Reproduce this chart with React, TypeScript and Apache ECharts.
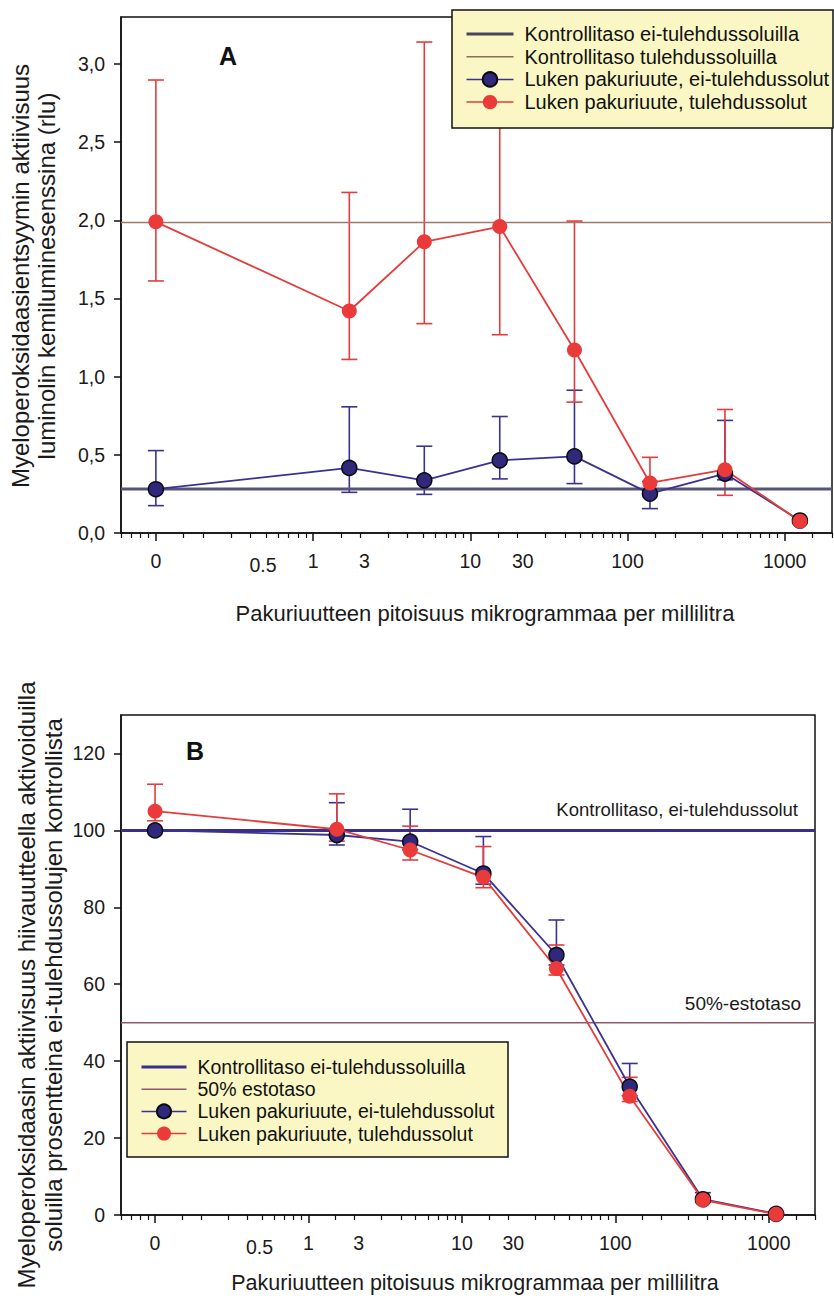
import React, { useEffect, useRef } from 'react';
import * as echarts from 'echarts';

const FONT = '"Liberation Sans", Arial, Helvetica, sans-serif';

// ---------- shared x axis (log concentration) ----------
const X_MIN = 0.06;
const X_MAX = 2000;
const majorTickValues = [0.1, 1, 10, 100, 1000];
const majorTickLabels = ['0', '1', '10', '100', '1000'];
const extraLabelValues = [0.48, 2.12, 21.6];
const extraLabels = ['0.5', '3', '30'];
const minorTickValues = [
  0.06, 0.07, 0.08, 0.09, 0.15, 0.2, 0.3, 0.4, 0.5, 0.6, 0.7, 0.8, 0.9,
  1.5, 2, 3, 4, 5, 6, 7, 8, 9, 15, 20, 30, 40, 50, 60, 70, 80, 90,
  150, 200, 300, 400, 500, 600, 700, 800, 900, 1500, 2000,
];

// ---------- chart A ----------
const yTicksA = [0, 0.5, 1, 1.5, 2, 2.5, 3];
const concA = [0.1, 1.7, 5.1, 15.4, 46, 139, 417, 1250];
const nonInfMeanA = [0.28, 0.416, 0.337, 0.465, 0.49, 0.252, 0.38, 0.08];
const nonInfLowA = [0.175, 0.26, 0.247, 0.346, 0.316, 0.156, 0.34, 0.07];
const nonInfHighA = [0.527, 0.807, 0.555, 0.745, 0.913, 0.33, 0.72, 0.09];
const infMeanA = [1.99, 1.42, 1.862, 1.96, 1.17, 0.32, 0.405, 0.075];
const infLowA = [1.612, 1.11, 1.339, 1.268, 0.837, 0.25, 0.241, 0.065];
const infHighA = [2.897, 2.178, 3.14, 2.75, 1.995, 0.484, 0.79, 0.09];
const controlNonInfA = 0.282;
const controlInfA = 1.986;

// ---------- chart B ----------
const yTicksB = [0, 20, 40, 60, 80, 100, 120];
const concB = [0.1, 1.53, 4.6, 13.8, 41.3, 124, 372, 1116];
const nonInfMeanB = [100, 98.8, 97.1, 88.8, 67.6, 33.4, 4.1, 0.3];
const nonInfLowB = [100, 96.2, 95, 86, 65, 31, 3.5, 0.2];
const nonInfHighB = [100, 107.2, 105.5, 98.4, 76.7, 39.4, 5.8, 0.5];
const infMeanB = [105, 100.3, 94.9, 87.8, 64.1, 30.9, 3.9, 0.2];
const infLowB = [102.5, 97.2, 92.3, 85.1, 62.4, 29.5, 3.3, 0.1];
const infHighB = [112, 109.5, 101.1, 95.8, 70.2, 35.8, 4.6, 0.4];
const controlB = 100;
const inhibitionB = 50;

const N_CTRL_NON = 'Kontrollitaso ei-tulehdussoluilla';
const N_CTRL_INF = 'Kontrollitaso tulehdussoluilla';
const N_50 = '50% estotaso';
const N_NON = 'Luken pakuriuute, ei-tulehdussolut';
const N_INF = 'Luken pakuriuute, tulehdussolut';

const L = (v: number) => Math.log10(v);

const BLUE = '#3a3290';
const BLUE_FILL = '#30287a';
const RED = '#e43c3c';
const RED_FILL = '#ea3a3a';
const TICK_FONT = 19.5;

function pick(vals: number[], labels: string[], v: number) {
  for (let i = 0; i < vals.length; i++) {
    if (Math.abs(L(vals[i]) - v) < 1e-6) return labels[i];
  }
  return '';
}

function xAxes(gridIndex: number) {
  const common = {
    type: 'value',
    gridIndex,
    position: 'bottom',
    min: L(X_MIN),
    max: L(X_MAX),
    splitLine: { show: false },
  };
  return [
    {
      ...common,
      axisLine: { show: true, onZero: false, lineStyle: { color: '#111', width: 1.5 } },
      axisTick: {
        show: true,
        customValues: majorTickValues.map(L),
        length: 8,
        lineStyle: { color: '#111', width: 1.5 },
      },
      axisLabel: {
        customValues: majorTickValues.map(L),
        formatter: (v: number) => pick(majorTickValues, majorTickLabels, v),
        fontSize: TICK_FONT,
        color: '#1a1a1a',
        fontFamily: FONT,
        margin: 18,
      },
    },
    {
      ...common,
      axisLine: { show: false, onZero: false },
      axisTick: {
        show: true,
        customValues: minorTickValues.map(L),
        length: 5,
        lineStyle: { color: '#111', width: 1.2 },
      },
      axisLabel: {
        customValues: extraLabelValues.map(L),
        formatter: (v: number) => {
          const s = pick(extraLabelValues, extraLabels, v);
          if (s === '0.5') return '{d|' + s + '}';
          return s;
        },
        rich: { d: { padding: [4, 0, 0, 0], fontSize: TICK_FONT, color: '#1a1a1a', fontFamily: FONT } },
        fontSize: TICK_FONT,
        color: '#1a1a1a',
        fontFamily: FONT,
        margin: 18,
      },
    },
  ];
}

function yAxis(gridIndex: number, max: number, ticks: number[], fmt: (v: number) => string) {
  return {
    type: 'value',
    gridIndex,
    min: 0,
    max,
    splitLine: { show: false },
    axisLine: { show: true, onZero: false, lineStyle: { color: '#111', width: 1.5 } },
    axisTick: { show: true, customValues: ticks, length: 7, lineStyle: { color: '#111', width: 1.5 } },
    axisLabel: {
      customValues: ticks,
      formatter: fmt,
      fontSize: TICK_FONT,
      color: '#1a1a1a',
      fontFamily: FONT,
      margin: 16,
    },
  };
}

function hLine(name: string, value: number, color: string, width: number, xi: number, yi: number) {
  return {
    type: 'line',
    name,
    xAxisIndex: xi,
    yAxisIndex: yi,
    data: [
      [L(X_MIN), value],
      [L(X_MAX), value],
    ],
    symbol: 'none',
    lineStyle: { color, width },
    itemStyle: { color },
    silent: true,
    z: 2,
  };
}

function errorBars(name: string, xs: number[], lo: number[], hi: number[], color: string, xi: number, yi: number) {
  return {
    type: 'custom',
    name,
    xAxisIndex: xi,
    yAxisIndex: yi,
    coordinateSystem: 'cartesian2d',
    data: xs.map((x, i) => [L(x), lo[i], hi[i]]),
    encode: { x: 0, y: [1, 2] },
    silent: true,
    z: 2,
    renderItem: (_params: any, api: any) => {
      const x = api.value(0);
      const l = api.value(1);
      const h = api.value(2);
      if (h - l < 1e-9) return null;
      const pl = api.coord([x, l]);
      const ph = api.coord([x, h]);
      const w = 8;
      const style = { stroke: color, lineWidth: 1.6 };
      return {
        type: 'group',
        children: [
          { type: 'line', shape: { x1: pl[0], y1: pl[1], x2: ph[0], y2: ph[1] }, style },
          { type: 'line', shape: { x1: ph[0] - w, y1: ph[1], x2: ph[0] + w, y2: ph[1] }, style },
          { type: 'line', shape: { x1: pl[0] - w, y1: pl[1], x2: pl[0] + w, y2: pl[1] }, style },
        ],
      };
    },
  };
}

function dataLine(name: string, xs: number[], ys: number[], kind: 'blue' | 'red', xi: number, yi: number) {
  const blue = kind === 'blue';
  return {
    type: 'line',
    name,
    xAxisIndex: xi,
    yAxisIndex: yi,
    data: xs.map((x, i) => [L(x), ys[i]]),
    symbol: 'circle',
    symbolSize: 15,
    lineStyle: { color: blue ? BLUE : RED, width: 1.8 },
    itemStyle: blue
      ? { color: BLUE_FILL, borderColor: '#0a0a14', borderWidth: 1.5 }
      : { color: RED_FILL, borderWidth: 0 },
    z: 3,
  };
}

function buildOption() {
  const commaFmt = (v: number) => v.toFixed(1).replace('.', ',');
  const intFmt = (v: number) => String(Math.round(v));
  return {
    animation: false,
    textStyle: { fontFamily: FONT },
    grid: [
      { left: 121, top: 17, width: 711, height: 516, show: true, borderColor: '#111', borderWidth: 1.5, containLabel: false },
      { left: 121, top: 715, width: 694, height: 500, show: true, borderColor: '#111', borderWidth: 1.5, containLabel: false },
    ],
    xAxis: [...xAxes(0), ...xAxes(1)],
    yAxis: [yAxis(0, 3.3, yTicksA, commaFmt), yAxis(1, 130, yTicksB, intFmt)],
    legend: [
      {
        orient: 'vertical',
        left: 465,
        top: 24,
        padding: 0,
        itemWidth: 47,
        itemHeight: 18,
        itemGap: 2.7,
        selectedMode: false,
        z: 5,
        textStyle: { fontSize: 20, lineHeight: 20, color: '#111', fontFamily: FONT, padding: [0, 0, 0, 6] },
        data: [
          { name: N_CTRL_NON, itemStyle: { opacity: 0 }, lineStyle: { width: 3, color: '#45455e' } },
          { name: N_CTRL_INF, itemStyle: { opacity: 0 }, lineStyle: { width: 1.5, color: '#8c6a58' } },
          { name: N_NON, lineStyle: { width: 1.5 } },
          { name: N_INF, lineStyle: { width: 1.5 } },
        ],
      },
      {
        orient: 'vertical',
        left: 140,
        top: 1057,
        padding: 0,
        itemWidth: 45,
        itemHeight: 17.5,
        itemGap: 2.2,
        selectedMode: false,
        z: 5,
        textStyle: { fontSize: 19.5, lineHeight: 19.5, color: '#111', fontFamily: FONT, padding: [0, 0, 0, 6] },
        data: [
          { name: N_CTRL_NON, itemStyle: { opacity: 0 }, lineStyle: { width: 3, color: '#3b2e8a' } },
          { name: N_50, itemStyle: { opacity: 0 }, lineStyle: { width: 1.5, color: '#8c5a6c' } },
          { name: N_NON, lineStyle: { width: 1.5 } },
          { name: N_INF, lineStyle: { width: 1.5 } },
        ],
      },
    ],
    graphic: [
      { type: 'rect', z: 3, shape: { x: 452, y: 10, width: 381, height: 118 }, style: { fill: '#faf7c4', stroke: '#111', lineWidth: 1.5 } },
      { type: 'rect', z: 3, shape: { x: 127, y: 1042, width: 381, height: 115 }, style: { fill: '#faf7c4', stroke: '#111', lineWidth: 1.5 } },
      {
        type: 'text', x: 33.5, y: 276, rotation: Math.PI / 2, z: 3,
        style: { text: 'Myeloperoksidaasientsyymin aktiivisuus\nluminolin kemiluminesenssina (rlu)', align: 'center', verticalAlign: 'middle', font: '24px ' + FONT, lineHeight: 26.5, fill: '#1a1a1a' },
      },
      {
        type: 'text', x: 39.5, y: 985, rotation: Math.PI / 2, z: 3,
        style: { text: 'Myeloperoksidaasin aktiivisuus hiivauutteella aktivoiduilla\nsoluilla prosentteina ei-tulehdussolujen kontrollista', align: 'center', verticalAlign: 'middle', font: '24px ' + FONT, lineHeight: 27, fill: '#1a1a1a' },
      },
      {
        type: 'text', x: 485, y: 613, z: 3,
        style: { text: 'Pakuriuutteen pitoisuus mikrogrammaa per millilitra', align: 'center', verticalAlign: 'middle', font: '22px ' + FONT, fill: '#1a1a1a' },
      },
      {
        type: 'text', x: 475, y: 1283, z: 3,
        style: { text: 'Pakuriuutteen pitoisuus mikrogrammaa per millilitra', align: 'center', verticalAlign: 'middle', font: '21.5px ' + FONT, fill: '#1a1a1a' },
      },
      { type: 'text', x: 228, y: 56, z: 3, style: { text: 'A', align: 'center', verticalAlign: 'middle', font: 'bold 25px ' + FONT, fill: '#111' } },
      { type: 'text', x: 195, y: 751, z: 3, style: { text: 'B', align: 'center', verticalAlign: 'middle', font: 'bold 25px ' + FONT, fill: '#111' } },
      { type: 'text', x: 798, y: 809, z: 3, style: { text: 'Kontrollitaso, ei-tulehdussolut', align: 'right', verticalAlign: 'middle', font: '18.5px ' + FONT, fill: '#1a1a1a' } },
      { type: 'text', x: 801, y: 1003, z: 3, style: { text: '50%-estotaso', align: 'right', verticalAlign: 'middle', font: '19px ' + FONT, fill: '#1a1a1a' } },
    ],
    series: [
      // chart A
      hLine(N_CTRL_NON, controlNonInfA, '#55557a', 3, 0, 0),
      hLine(N_CTRL_INF, controlInfA, '#9b7a6b', 1.5, 0, 0),
      errorBars('errA-non', concA, nonInfLowA, nonInfHighA, BLUE, 0, 0),
      errorBars('errA-inf', concA, infLowA, infHighA, RED, 0, 0),
      dataLine(N_NON, concA, nonInfMeanA, 'blue', 0, 0),
      dataLine(N_INF, concA, infMeanA, 'red', 0, 0),
      // chart B
      hLine(N_CTRL_NON, controlB, '#3b2e8a', 3, 2, 1),
      hLine(N_50, inhibitionB, '#8c5a6c', 1.5, 2, 1),
      errorBars('errB-non', concB, nonInfLowB, nonInfHighB, BLUE, 2, 1),
      errorBars('errB-inf', concB, infLowB, infHighB, RED, 2, 1),
      dataLine(N_NON, concB, nonInfMeanB, 'blue', 2, 1),
      dataLine(N_INF, concB, infMeanB, 'red', 2, 1),
    ],
  };
}

export default function App() {
  const ref = useRef<HTMLDivElement>(null);
  useEffect(() => {
    if (!ref.current) return;
    const chart = echarts.init(ref.current, undefined, { renderer: 'svg' });
    chart.setOption(buildOption() as any);
    return () => chart.dispose();
  }, []);
  return (
    <div
      ref={ref}
      style={{ position: 'fixed', left: 0, top: 0, width: 834, height: 1298, background: '#fff' }}
    />
  );
}
